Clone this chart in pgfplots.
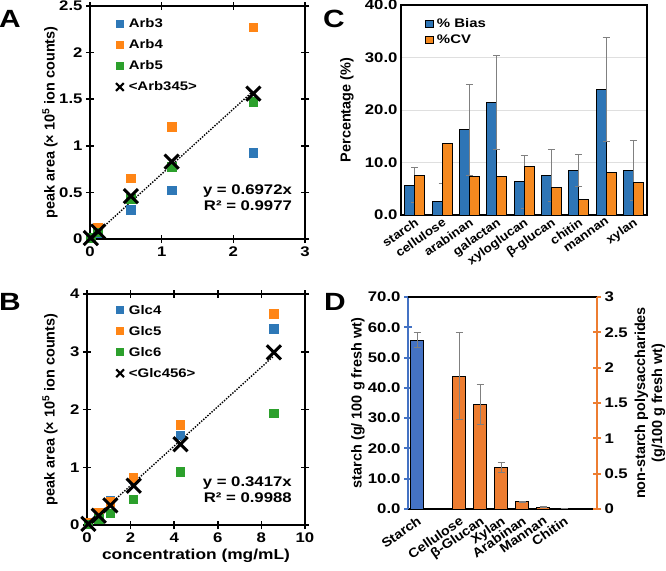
\documentclass[border=0pt]{standalone}
\usepackage{fontspec}
\setmainfont{Liberation Sans}
\newfontfamily\hfont{Liberation Sans}[FakeStretch=1.2]
\newfontfamily\rfont{Liberation Sans}[FakeStretch=1.1]
\usepackage{pgfplots}
\pgfplotsset{compat=1.18}
\definecolor{sblue}{HTML}{2E78B7}
\definecolor{sorange}{HTML}{FF8515}
\definecolor{sgreen}{HTML}{2CA02C}
\definecolor{cblue}{HTML}{2E75B6}
\definecolor{corange}{HTML}{F5891F}
\definecolor{dblue}{HTML}{4472C4}
\definecolor{dorange}{HTML}{ED7D31}
\pgfplotsset{
 common/.style={
  scale only axis,
  /pgf/number format/assume math mode=true,
  tick label style={font=\hfont\bfseries\fontsize{14}{14}\selectfont},
  label style={font=\bfseries\fontsize{14.5}{17}\selectfont},
  legend style={font=\hfont\bfseries\fontsize{12.5}{14}\selectfont},
 },
 scat/.style={common,
  axis line style={line width=1.5bp},
  tick align=center, major tick length=8bp,
  every tick/.style={black, line width=1.5bp},
  clip=false,
  legend image code/.code={\draw[##1] plot coordinates {(0bp,0bp)};},
  legend cell align=left,
  legend style={anchor=north west, draw=none, fill=none, row sep=6.5bp, inner sep=0pt, /tikz/column sep=3bp},
 },
 sq/.style={only marks, color=#1, mark=square*, mark size=4.3bp, mark options={draw=#1, fill=#1, line width=0pt}},
 lsq/.style={only marks, color=#1, mark=square*, mark size=3.6bp, mark options={draw=#1, fill=#1, line width=0pt}},
 cr/.style={only marks, color=black, mark=x, mark size=10bp, mark options={draw=black, line width=3bp}},
 lcr/.style={only marks, color=black, mark=x, mark size=5.5bp, mark options={draw=black, line width=2.2bp}},
 trend/.style={black, line width=1.4bp, dash pattern=on 1.4bp off 1.4bp},
 errs/.style={error bars/.cd, y dir=both, y explicit, error bar style={gray, line width=1bp}, error mark options={rotate=90, gray, mark size=3.5bp, line width=1bp}},
}
\begin{document}
\begin{tikzpicture}
\useasboundingbox (0,0) rectangle (666bp,-571bp);
% ---------- Panel A ----------
\begin{axis}[scat, at={(90bp,-239bp)}, anchor=south west, width=215bp, height=233bp,
  xmin=0, xmax=3, ymin=0, ymax=2.5, xtick={0,1,2,3}, ytick={0,0.5,1,1.5,2,2.5},
  ylabel={peak area (× 10\textsuperscript{5} ion counts)},
  ylabel style={at={(axis description cs:-0.186,0.5)}, anchor=center},
  legend style={at={(axis description cs:0.12,0.955)}}]
\addplot[trend, forget plot] coordinates {(0,0) (2.28,1.5896)};
\addplot[sq=sblue, forget plot] coordinates {(0.011,0.005) (0.114,0.06) (0.57,0.31) (1.14,0.52) (2.28,0.92)};
\addplot[sq=sorange, forget plot] coordinates {(0.011,0.01) (0.114,0.12) (0.57,0.65) (1.14,1.20) (2.28,2.27)};
\addplot[sq=sgreen, forget plot] coordinates {(0.011,0.01) (0.114,0.07) (0.57,0.43) (1.14,0.77) (2.28,1.47)};
\addplot[cr, forget plot] coordinates {(0.011,0.01) (0.114,0.08) (0.57,0.46) (1.14,0.83) (2.28,1.56)};
\addlegendimage{lsq=sblue}\addlegendentry{Arb3}
\addlegendimage{lsq=sorange}\addlegendentry{Arb4}
\addlegendimage{lsq=sgreen}\addlegendentry{Arb5}
\addlegendimage{lcr}\addlegendentry{<Arb345>}
\node[anchor=north east, align=right, inner sep=0pt, font=\hfont\bfseries\fontsize{14}{16.5}\selectfont] at (axis description cs:0.94,0.235) {y = 0.6972x\\R² = 0.9977};
\end{axis}
% ---------- Panel B ----------
\begin{axis}[scat, at={(87bp,-525bp)}, anchor=south west, width=218bp, height=231bp,
  xmin=0, xmax=10, ymin=0, ymax=4, xtick={0,2,...,10}, ytick={0,1,2,3,4},
  ylabel={peak area (× 10\textsuperscript{5} ion counts)},
  ylabel style={at={(axis description cs:-0.17,0.5)}, anchor=center},
  xlabel={concentration (mg/mL)},
  xlabel style={at={(axis description cs:0.5,-0.134)}, anchor=center, font=\hfont\bfseries\fontsize{14.5}{17}\selectfont},
  legend style={at={(axis description cs:0.133,0.962)}}]
\addplot[trend, forget plot] coordinates {(0,0) (8.57,2.928)};
\addplot[sq=sblue, forget plot] coordinates {(0.067,0.02) (0.54,0.17) (1.07,0.42) (2.14,0.80) (4.29,1.55) (8.57,3.39)};
\addplot[sq=sorange, forget plot] coordinates {(0.067,0.03) (0.54,0.21) (1.07,0.40) (2.14,0.81) (4.29,1.73) (8.57,3.65)};
\addplot[sq=sgreen, forget plot] coordinates {(0.067,0.01) (0.54,0.10) (1.07,0.20) (2.14,0.44) (4.29,0.92) (8.57,1.93)};
\addplot[cr, forget plot] coordinates {(0.067,0.02) (0.54,0.16) (1.07,0.34) (2.14,0.68) (4.29,1.40) (8.57,2.99)};
\addlegendimage{lsq=sblue}\addlegendentry{Glc4}
\addlegendimage{lsq=sorange}\addlegendentry{Glc5}
\addlegendimage{lsq=sgreen}\addlegendentry{Glc6}
\addlegendimage{lcr}\addlegendentry{<Glc456>}
\node[anchor=north east, align=right, inner sep=0pt, font=\hfont\bfseries\fontsize{14}{16.5}\selectfont] at (axis description cs:0.94,0.21) {y = 0.3417x\\R² = 0.9988};
\end{axis}
% ---------- Panel C ----------
\begin{axis}[common, at={(401bp,-215bp)}, anchor=south west, width=246bp, height=210bp,
  xmin=-0.5, xmax=8.5, ymin=0, ymax=40, ytick={0,10,...,40},
  yticklabel style={/pgf/number format/.cd, fixed, fixed zerofill, precision=1},
  xtick={0,...,8},
  xticklabels={starch,cellulose,arabinan,galactan,xyloglucan,β-glucan,chitin,mannan,xylan},
  xticklabel style={rotate=35, anchor=north east, inner sep=1.5bp, font=\rfont\bfseries\fontsize{12.3}{13}\selectfont},
  axis line style={line width=1.5bp},
  major tick length=0pt,
  ymajorgrids, grid style={gray!25, line width=0.8bp},
  ylabel={Percentage (\%)},
  ylabel style={at={(axis description cs:-0.22,0.5)}, anchor=center},
  legend image code/.code={\draw[#1] plot coordinates {(0bp,0bp)};},
  legend cell align=left,
  legend style={at={(axis description cs:0.1,0.945)}, anchor=north west, draw=none, fill=none, row sep=2bp, inner sep=0pt, /tikz/column sep=2bp}]
\addplot[ybar, bar width=10bp, bar shift=-5bp, fill=cblue, draw=black, line width=1bp, forget plot, errs] table[x=x, y=y, y error=e] {
x y e
0 5.7 3.3
1 2.6 3.4
2 16.2 8.6
3 21.4 8.9
4 6.3 5.1
5 7.5 4.9
6 8.5 3.1
7 23.9 9.9
8 8.5 5.7
};
\addplot[ybar, bar width=10bp, bar shift=5bp, fill=corange, draw=black, line width=1bp, forget plot] table[x=x, y=y] {
x y
0 7.5
1 13.7
2 7.4
3 7.3
4 9.3
5 5.2
6 2.9
7 8.1
8 6.2
};
\addlegendimage{only marks, mark=square*, mark size=3.6bp, mark options={fill=cblue, draw=black, line width=0.9bp}}\addlegendentry{\% Bias}
\addlegendimage{only marks, mark=square*, mark size=3.6bp, mark options={fill=corange, draw=black, line width=0.9bp}}\addlegendentry{\%CV}
\end{axis}
% ---------- Panel D ----------
\begin{axis}[common, at={(408bp,-509bp)}, anchor=south west, width=189bp, height=212bp,
  xmin=-0.43, xmax=8.57, ymin=0, ymax=70,
  axis y line*=left, axis x line*=bottom,
  ytick={0,10,...,70},
  yticklabel style={/pgf/number format/.cd, fixed, fixed zerofill, precision=1},
  xtick={0,2,3,4,5,6,7},
  xticklabels={Starch,Cellulose,β-Glucan,Xylan,Arabinan,Mannan,Chitin},
  xticklabel style={rotate=35, anchor=north east, inner sep=1.5bp, font=\rfont\bfseries\fontsize{13}{14}\selectfont},
  x axis line style={line width=2.5bp, black, -},
  y axis line style={line width=2bp, dblue, -},
  xtick style={draw=none},
  ytick style={dblue, line width=2bp},
  tick align=center, major tick length=8bp,
  ylabel={starch (g/ 100 g fresh wt)},
  ylabel style={at={(axis description cs:-0.265,0.5)}, anchor=center}]
\addplot[ybar, bar width=12.5bp, fill=dblue, draw=black, line width=1bp, errs] table[x=x, y=y, y error=e] {
x y e
0 55.8 2.5
};
\end{axis}
\begin{axis}[common, at={(408bp,-509bp)}, anchor=south west, width=189bp, height=212bp,
  xmin=-0.43, xmax=8.57, ymin=0, ymax=3,
  axis y line*=right, axis x line*=top,
  xtick=\empty,
  ytick={0,0.5,...,3},
  x axis line style={line width=1.5bp, black, -},
  y axis line style={line width=2bp, dorange, -},
  ytick style={dorange, line width=2bp},
  tick align=center, major tick length=8bp,
  ylabel={non-starch polysaccharides\\(g/100 g fresh wt)},
  ylabel style={align=center, at={(axis description cs:1.28,0.5)}, anchor=center}]
\addplot[ybar, bar width=12.5bp, fill=dorange, draw=black, line width=1bp, errs] table[x=x, y=y, y error=e] {
x y e
2 1.88 0.62
3 1.48 0.28
4 0.59 0.07
5 0.10 0.012
6 0.024 0.005
7 0.010 0.003
};
\end{axis}
% ---------- Panel letters ----------
\node[font=\hfont\bfseries\fontsize{25}{25}\selectfont] at (10bp,-19bp) {A};
\node[font=\hfont\bfseries\fontsize{25}{25}\selectfont] at (10bp,-302bp) {B};
\node[font=\hfont\bfseries\fontsize{25}{25}\selectfont] at (334bp,-19bp) {C};
\node[font=\hfont\bfseries\fontsize{25}{25}\selectfont] at (335bp,-302bp) {D};
\end{tikzpicture}
\end{document}
